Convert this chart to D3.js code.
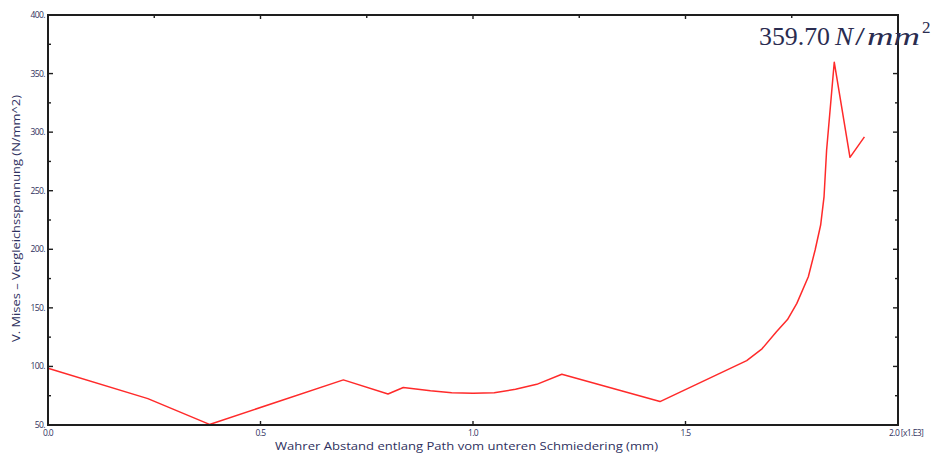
<!DOCTYPE html>
<html>
<head>
<meta charset="utf-8">
<script src="https://cdn.jsdelivr.net/npm/d3@7"></script>
<style>
  html, body { margin: 0; padding: 0; background: #fff; }
  svg { display: block; }
</style>
</head>
<body>
<svg id="chart" width="939" height="455"></svg>
<script>
// ---- data ----
const distance = [0, 0.235, 0.38, 0.695, 0.80, 0.836, 0.9, 0.95, 1.0, 1.05, 1.1, 1.15, 1.209, 1.44, 1.644, 1.68, 1.714, 1.74, 1.762, 1.789, 1.805, 1.818, 1.826, 1.832, 1.85, 1.887, 1.921];
const stress   = [98.5, 72.5, 50.5, 88.5, 76.5, 82, 79.3, 77.6, 77, 77.5, 80.5, 84.7, 93.3, 70, 105, 115, 129.6, 140, 153.8, 176.6, 199.4, 220.7, 245, 284.5, 359.7, 278.5, 296];
const xTickValues = [0, 0.5, 1.0, 1.5, 2.0];
const xTickLabels = ["0.0", "0.5", "1.0", "1.5", "2.0 [x1.E3]"];
const xMinorTicks = [0.25, 0.75, 1.25, 1.75];
const yTickValues = [50, 100, 150, 200, 250, 300, 350, 400];
const yMinorTicks = [75, 125, 175, 225, 275, 325, 375];
const peakLabelValue = "359.70";
const xTitle = "Wahrer Abstand entlang Path vom unteren Schmiedering (mm)";
const yTitle = "V. Mises \u2013 Vergleichsspannung (N/mm^2)";

// ---- layout ----
const svg = d3.select("#chart");
const L = 48, R = 898, T = 15, B = 425;
const x = d3.scaleLinear().domain([0, 2]).range([L, R]);
const y = d3.scaleLinear().domain([50, 400]).range([B, T]);
const textColor = "#2f3160";
const frameColor = "#1e1e1e";

// line
const line = d3.line().x((d, i) => x(distance[i])).y((d, i) => y(stress[i]));
svg.append("path")
  .datum(stress)
  .attr("d", line)
  .attr("fill", "none")
  .attr("stroke", "#ff2a2a")
  .attr("stroke-width", 1.5)
  .attr("stroke-linejoin", "round");

// frame
svg.append("rect")
  .attr("x", L).attr("y", T)
  .attr("width", R - L).attr("height", B - T)
  .attr("fill", "none")
  .attr("stroke", frameColor)
  .attr("stroke-width", 2);

const g = svg.append("g").attr("stroke", frameColor).attr("stroke-width", 1.4);
xTickValues.slice(1, -1).forEach(v => {
  g.append("line").attr("x1", x(v)).attr("x2", x(v)).attr("y1", B).attr("y2", B - 4);
  g.append("line").attr("x1", x(v)).attr("x2", x(v)).attr("y1", T).attr("y2", T + 4);
});
xMinorTicks.forEach(v => {
  g.append("line").attr("x1", x(v)).attr("x2", x(v)).attr("y1", T).attr("y2", T + 3);
});
yTickValues.slice(1, -1).forEach(v => {
  g.append("line").attr("x1", L).attr("x2", L + 5).attr("y1", y(v)).attr("y2", y(v));
  g.append("line").attr("x1", R).attr("x2", R - 5).attr("y1", y(v)).attr("y2", y(v));
});
yMinorTicks.forEach(v => {
  g.append("line").attr("x1", L).attr("x2", L + 3).attr("y1", y(v)).attr("y2", y(v));
  g.append("line").attr("x1", R).attr("x2", R - 3).attr("y1", y(v)).attr("y2", y(v));
});

// y tick labels
svg.append("g").selectAll("text").data(yTickValues).join("text")
  .attr("x", L - 3)
  .attr("y", d => y(d) + 3)
  .attr("text-anchor", "end")
  .attr("font-family", "Open Sans, sans-serif")
  .attr("font-size", 8.5)
  .attr("letter-spacing", -0.6)
  .attr("fill", textColor)
  .text(d => d3.format("d")(d) + ".");

// x tick labels
svg.append("g").selectAll("text").data(xTickValues).join("text")
  .attr("x", (d, i) => i === xTickValues.length - 1 ? x(d) - 9 : x(d))
  .attr("y", B + 11)
  .attr("text-anchor", (d, i) => i === xTickValues.length - 1 ? "start" : "middle")
  .attr("font-family", "Open Sans, sans-serif")
  .attr("font-size", 8.5)
  .attr("letter-spacing", -0.6)
  .attr("fill", textColor)
  .text((d, i) => xTickLabels[i]);

// axis titles
svg.append("text")
  .attr("x", 275).attr("y", 450)
  .attr("font-family", "Open Sans, sans-serif")
  .attr("font-size", 11.5)
  .attr("fill", textColor)
  .attr("textLength", 383)
  .attr("lengthAdjust", "spacingAndGlyphs")
  .text(xTitle);

svg.append("text")
  .attr("transform", "translate(20,342) rotate(-90)")
  .attr("x", 0).attr("y", 0)
  .attr("font-family", "Open Sans, sans-serif")
  .attr("font-size", 10.5)
  .attr("fill", textColor)
  .attr("textLength", 247)
  .attr("lengthAdjust", "spacingAndGlyphs")
  .text(yTitle);

// peak annotation (LaTeX-like: 359.70 N/mm^2)
const ann = svg.append("g")
  .attr("font-family", "Liberation Serif, DejaVu Serif, serif")
  .attr("font-size", 26)
  .attr("fill", "#2a2c50");
ann.append("text").attr("x", 759).attr("y", 45)
  .attr("textLength", 71).attr("lengthAdjust", "spacingAndGlyphs")
  .text(peakLabelValue);
ann.append("text").attr("x", 835).attr("y", 45).attr("font-style", "italic")
  .attr("textLength", 18).attr("lengthAdjust", "spacingAndGlyphs").text("N");
ann.append("text").attr("x", 855).attr("y", 45)
  .attr("textLength", 10).attr("lengthAdjust", "spacingAndGlyphs").text("/");
ann.append("text").attr("x", 867).attr("y", 45).attr("font-style", "italic")
  .attr("textLength", 53).attr("lengthAdjust", "spacingAndGlyphs").text("mm");
ann.append("text").attr("x", 922).attr("y", 33).attr("font-size", 17)
  .text("2");
</script>
</body>
</html>
